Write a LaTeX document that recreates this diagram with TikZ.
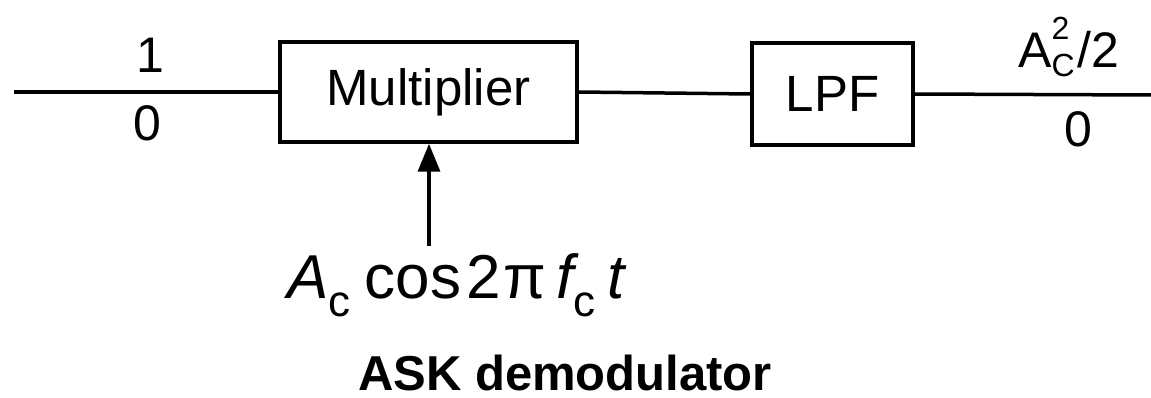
\documentclass[tikz,border=0pt]{standalone}
\usepackage{fontspec}
\setmainfont{Liberation Sans}
\usetikzlibrary{arrows.meta}
\begin{document}
\begin{tikzpicture}[x=1pt,y=-1pt,
  blk/.style={draw,line width=3.5pt,inner sep=0pt,font=\fontsize{51}{60}\selectfont},
  lbl/.style={inner sep=0pt,font=\fontsize{50}{60}\selectfont},
  wire/.style={line width=3.5pt},
  sig/.style={line width=3.5pt,-{Triangle[length=28pt,width=22pt]}}]
\useasboundingbox (0,0) rectangle (1151,398);
% blocks
\node[blk,minimum width=297pt,minimum height=100pt] (mult) at (428.5,92) {Multiplier};
\node[blk,minimum width=161pt,minimum height=102pt] (lpf) at (832.5,94) {LPF};
% ends of the main line
\coordinate (in) at (14,92);
\coordinate (out) at (1151,95);
\coordinate (osc) at (429,246);
% connectors
\draw[wire] (in) -- (mult.west);
\draw[wire] (mult.east) -- (lpf.west);
\draw[wire] (lpf.east) -- (out);
\draw[sig] (osc) -- (mult.south -| osc);
% labels
\node[lbl] (one) at (150,55) {1};
\node[lbl] (zin) at (147,123) {0};
\node[lbl,anchor=base west] (amp) at (1018,68) {A{\fontsize{32}{32}\selectfont\rlap{\raisebox{28pt}{2}}\raisebox{-9pt}{C}}\hspace{3pt}/2};
\node[lbl] (zout) at (1078,129) {0};
\node[inner sep=0pt,anchor=base west,font=\fontsize{62}{70}\selectfont] (carrier) at (287,298)
  {{\itshape A}\raisebox{-18pt}{\fontsize{44}{44}\selectfont c}\hspace{14pt}cos\hspace{6pt}2\hspace{2pt}π\hspace{10pt}{\itshape f}\raisebox{-18pt}{\fontsize{44}{44}\selectfont c}\hspace{12pt}{\itshape t}};
\node[inner sep=0pt,anchor=base,font=\fontsize{49}{60}\selectfont\bfseries] (title) at (565,390) {ASK demodulator};
\end{tikzpicture}
\end{document}
